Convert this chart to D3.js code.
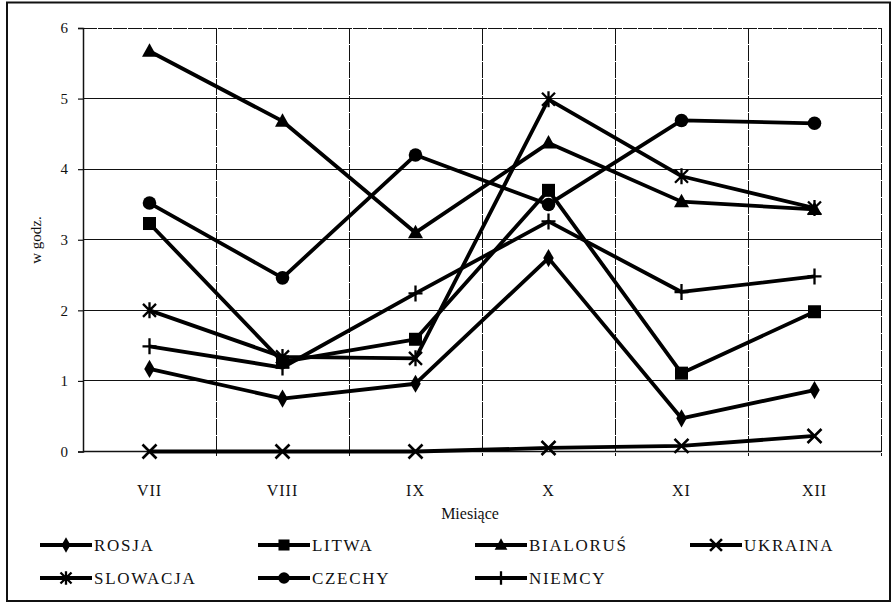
<!DOCTYPE html>
<html>
<head>
<meta charset="utf-8">
<script src="https://cdn.jsdelivr.net/npm/d3@7"></script>
<style>
  body { margin: 0; background: #fff; }
  svg { display: block; }
  text { font-family: "Liberation Serif", "DejaVu Serif", serif; fill: #111; }
</style>
</head>
<body>
<div id="chart"></div>
<script>
// miesiące i dane (w godz.)
const months = ['VII', 'VIII', 'IX', 'X', 'XI', 'XII']
const yTicks = [0, 1, 2, 3, 4, 5, 6]

const rosja    = [1.17, 0.75, 0.96, 2.74, 0.47, 0.87]
const litwa    = [3.23, 1.27, 1.59, 3.70, 1.11, 1.98]
const bialorus = [5.67, 4.68, 3.10, 4.37, 3.54, 3.43]
const ukraina  = [0.00, 0.00, 0.00, 0.05, 0.08, 0.22]
const slowacja = [2.00, 1.34, 1.32, 4.99, 3.90, 3.45]
const czechy   = [3.52, 2.46, 4.20, 3.50, 4.69, 4.65]
const niemcy   = [1.49, 1.19, 2.24, 3.26, 2.26, 2.48]

const seriesNames = ['ROSJA', 'LITWA', 'BIALORUŚ', 'UKRAINA', 'SLOWACJA', 'CZECHY', 'NIEMCY']
const seriesValues = [rosja, litwa, bialorus, ukraina, slowacja, czechy, niemcy]
const seriesMarkers = ['diamond', 'square', 'triangle', 'x', 'asterisk', 'circle', 'plus']

const W = 892, H = 604
const plot = { left: 83, right: 881, top: 28, bottom: 451.5 }

const svg = d3.select('#chart').append('svg')
  .attr('width', W)
  .attr('height', H)

svg.append('rect').attr('width', W).attr('height', H).attr('fill', '#fff')

// ramka
svg.append('rect')
  .attr('x', 7).attr('y', 2.5)
  .attr('width', 883).attr('height', 598.5)
  .attr('fill', 'none')
  .attr('stroke', '#111')
  .attr('stroke-width', 2)

const x = d3.scaleBand().domain(months).range([plot.left, plot.right]).padding(0)
const y = d3.scaleLinear().domain([0, 6]).range([plot.bottom, plot.top])
const cx = m => x(m) + x.bandwidth() / 2

// siatka pozioma
const grid = svg.append('g').attr('class', 'grid').attr('shape-rendering', 'crispEdges')
grid.selectAll('line.h')
  .data(yTicks.filter(d => d > 0))
  .enter().append('line')
  .attr('class', 'h')
  .attr('x1', plot.left).attr('x2', plot.right)
  .attr('y1', d => y(d)).attr('y2', d => y(d))
  .attr('stroke', '#111')
  .attr('stroke-width', 1)
  .attr('stroke-dasharray', d => d == 6 ? '14,1' : null)

// siatka pionowa (granice kategorii)
const bounds = months.slice(1).map(m => x(m)).concat([plot.right])
grid.selectAll('line.v')
  .data(bounds)
  .enter().append('line')
  .attr('class', 'v')
  .attr('x1', d => d).attr('x2', d => d)
  .attr('y1', plot.top).attr('y2', plot.bottom + 4)
  .attr('stroke', '#111')
  .attr('stroke-width', 1)
  .attr('stroke-dasharray', '16,1')

// oś Y
const yAxis = svg.append('g')
  .attr('transform', `translate(${plot.left},0)`)
  .call(d3.axisLeft(y).tickValues(yTicks).tickSize(5).tickPadding(10).tickFormat(d3.format('d')))
yAxis.select('.domain').attr('stroke', '#111').attr('stroke-width', 1.5)
yAxis.selectAll('.tick line').attr('stroke', '#111').attr('stroke-width', 1.2)
yAxis.selectAll('.tick text')
  .style('font-family', '"Liberation Serif", serif')
  .style('font-size', '15px')
  .attr('fill', '#111')

// oś X
svg.append('line')
  .attr('x1', plot.left).attr('x2', plot.right)
  .attr('y1', plot.bottom).attr('y2', plot.bottom)
  .attr('stroke', '#111').attr('stroke-width', 1.5)

svg.append('g').selectAll('text')
  .data(months)
  .enter().append('text')
  .attr('x', d => cx(d))
  .attr('y', 496)
  .attr('text-anchor', 'middle')
  .style('font-size', '16px')
  .style('letter-spacing', '1px')
  .text(d => d)

// tytuły osi
svg.append('text')
  .attr('transform', 'translate(41,240) rotate(-90)')
  .attr('text-anchor', 'middle')
  .style('font-size', '15px')
  .text('w godz.')

svg.append('text')
  .attr('x', 470)
  .attr('y', 519)
  .attr('text-anchor', 'middle')
  .style('font-size', '16px')
  .text('Miesiące')

// znaczniki
function drawMarker(g, type, px, py, k = 1) {
  const s = 'black'
  if (type == 'diamond') {
    g.append('path').attr('d', d3.symbol(d3.symbolDiamond, 95 * k * k)()).attr('transform', `translate(${px},${py})`).attr('fill', s)
  } else if (type == 'square') {
    g.append('rect').attr('x', px - 6.5 * k).attr('y', py - 6.5 * k).attr('width', 13 * k).attr('height', 13 * k).attr('fill', s)
  } else if (type == 'triangle') {
    g.append('path').attr('d', `M${px},${py - 8 * k}L${px + 7.5 * k},${py + 5.5 * k}L${px - 7.5 * k},${py + 5.5 * k}Z`).attr('fill', s)
  } else if (type == 'circle') {
    g.append('circle').attr('cx', px).attr('cy', py).attr('r', 6.8 * k).attr('fill', s)
  } else if (type == 'x') {
    const r = 7 * k
    g.append('path').attr('d', `M${px - r},${py - r}L${px + r},${py + r}M${px - r},${py + r}L${px + r},${py - r}`)
      .attr('stroke', s).attr('stroke-width', 2.6).attr('fill', 'none')
  } else if (type == 'asterisk') {
    const r = 6.5 * k
    g.append('path').attr('d', `M${px - r},${py - r}L${px + r},${py + r}M${px - r},${py + r}L${px + r},${py - r}M${px},${py - 8 * k}L${px},${py + 8 * k}`)
      .attr('stroke', s).attr('stroke-width', 2.3).attr('fill', 'none')
  } else if (type == 'plus') {
    g.append('path').attr('d', `M${px},${py - 8 * k}L${px},${py + 8 * k}M${px - 7 * k},${py}L${px + 7 * k},${py}`)
      .attr('stroke', s).attr('stroke-width', 2.3).attr('fill', 'none')
  }
}

const line = d3.line()
  .x((d, i) => cx(months[i]))
  .y(d => y(d))

const seriesG = svg.append('g').attr('class', 'series')
seriesValues.forEach((vals, si) => {
  const g = seriesG.append('g')
  g.append('path')
    .datum(vals)
    .attr('d', line)
    .attr('fill', 'none')
    .attr('stroke', '#000')
    .attr('stroke-width', 3.8)
    .attr('stroke-linejoin', 'round')
  vals.forEach((v, i) => drawMarker(g, seriesMarkers[si], cx(months[i]), y(v)))
})

// legenda
const legCols = [40, 258, 475, 690]
const legRows = [545, 578]
const legend = svg.append('g').attr('class', 'legend')
seriesNames.forEach((name, i) => {
  const lx = legCols[i % 4]
  const ly = legRows[Math.floor(i / 4)]
  const g = legend.append('g')
  g.append('line')
    .attr('x1', lx).attr('x2', lx + 52)
    .attr('y1', ly).attr('y2', ly)
    .attr('stroke', '#000').attr('stroke-width', 3.8)
  drawMarker(g, seriesMarkers[i], lx + 26, ly, 0.85)
  g.append('text')
    .attr('x', lx + 54)
    .attr('y', ly + 6)
    .style('font-size', '17px')
    .style('letter-spacing', '1.7px')
    .text(name)
})
</script>
</body>
</html>
